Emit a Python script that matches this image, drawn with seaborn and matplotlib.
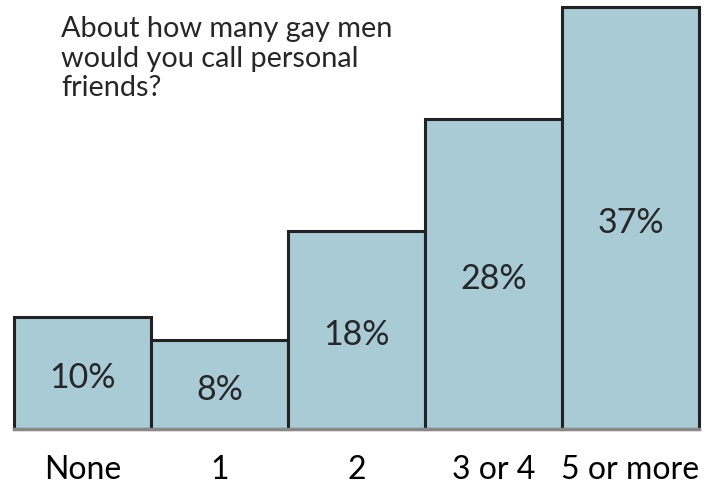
import numpy as np
import pandas as pd
import matplotlib
matplotlib.use('Agg')
import matplotlib.pyplot as plt
import seaborn as sns

# 数据
categories = ['None', '1', '2', '3 or 4', '5 or more']
heights = [9.8, 7.8, 17.4, 27.2, 37.0]
labels = ['10%', '8%', '18%', '28%', '37%']
title = 'About how many gay men\nwould you call personal\nfriends?'

sns.set_style('white')
plt.rcParams['font.family'] = ['Lato', 'DejaVu Sans']

df = pd.DataFrame({'cat': categories, 'val': heights})

fig = plt.figure(figsize=(7.19, 4.88), dpi=100)
ax = fig.add_axes([14/719, 1-429/488, (699-14)/719, (429-7)/488])

sns.barplot(data=df, x='cat', y='val', color='#a8cbd6', saturation=1,
            width=1, edgecolor='#222222', linewidth=2.2, ax=ax)
for p in ax.patches:
    p.set_clip_on(False)

ax.set_ylim(0, 37.0)
ax.set_xlim(-0.5, 4.5)
for s in ['top', 'right', 'left']:
    ax.spines[s].set_visible(False)
ax.spines['bottom'].set_color('#888888')
ax.spines['bottom'].set_linewidth(2.5)
ax.set_yticks([])
ax.set_xlabel('')
ax.set_ylabel('')
ax.tick_params(axis='x', length=0, pad=19, labelsize=23, labelcolor='black')

# 百分比标注（略低于柱子中部）
for i, (h, lab) in enumerate(zip(heights, labels)):
    ax.text(i, h / 2 - 0.45, lab, ha='center', va='center', fontsize=24.5)

fig.text(61/719, 1-16/488, title, ha='left', va='top', fontsize=20.8,
         linespacing=1.17)

plt.savefig('out.png', dpi=100)
